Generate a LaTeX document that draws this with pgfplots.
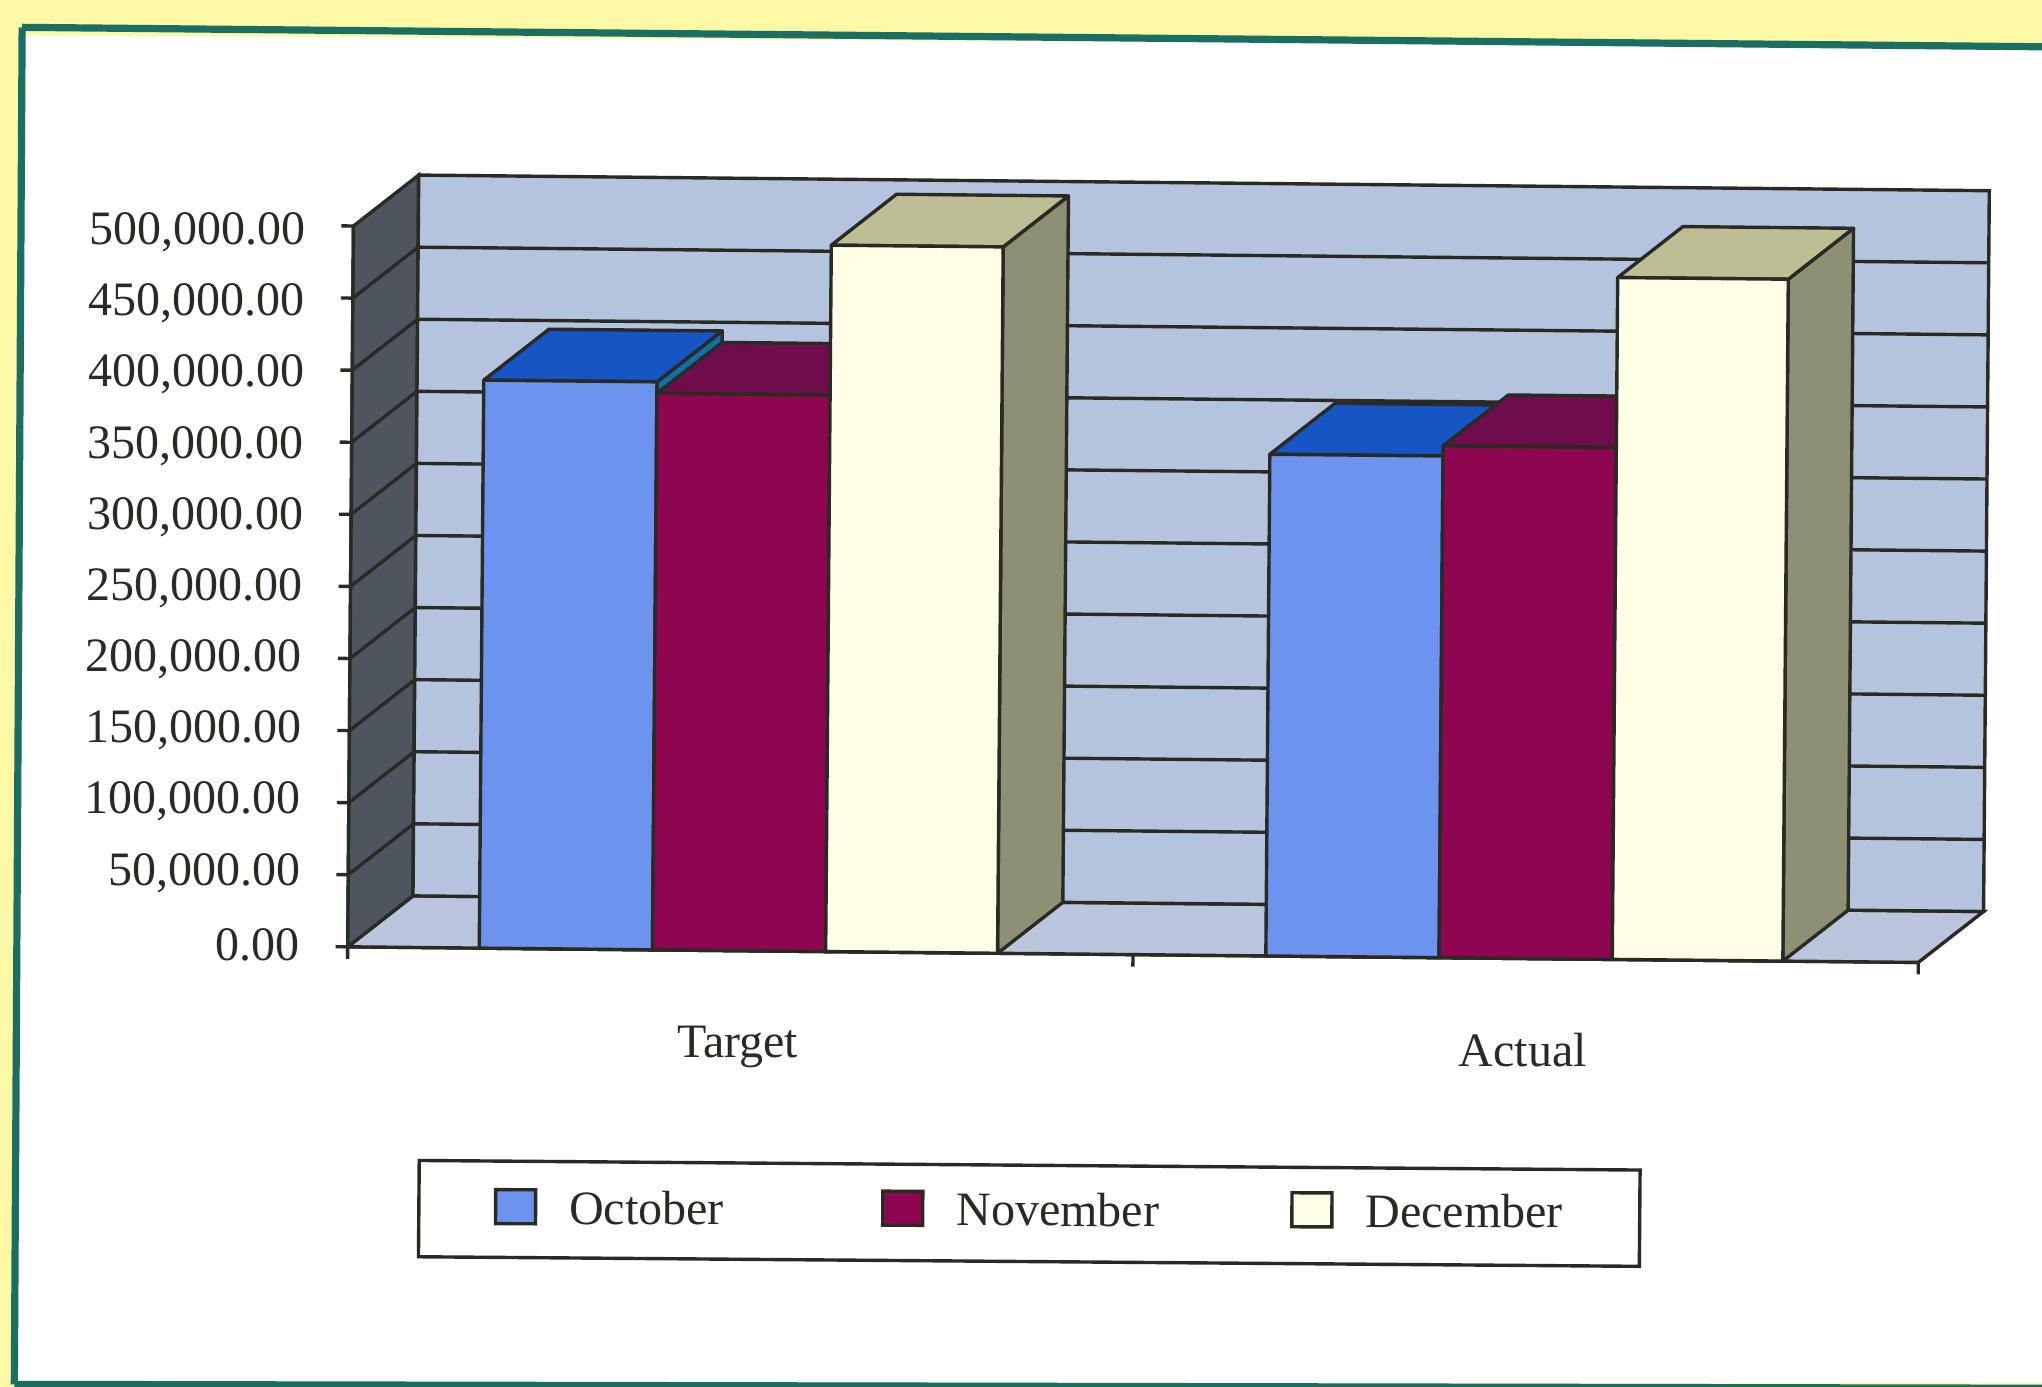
\documentclass[border=0pt]{standalone}
\usepackage{pgfplots}
\usepackage{fontspec}
\setmainfont{Liberation Serif}
\pgfplotsset{compat=1.18}
\definecolor{bgy}{HTML}{FDF8A6}
\definecolor{teal}{HTML}{1B6E62}
\definecolor{wall}{HTML}{B5C4DE}
\definecolor{floorc}{HTML}{BBC6DC}
\definecolor{sidew}{HTML}{4F555E}
\definecolor{octf}{HTML}{6C93EE}
\definecolor{octt}{HTML}{1555C4}
\definecolor{octs}{HTML}{0F6FA8}
\definecolor{novf}{HTML}{8E0550}
\definecolor{novt}{HTML}{6E0C4C}
\definecolor{novs}{HTML}{5E0A40}
\definecolor{decf}{HTML}{FFFEE6}
\definecolor{dect}{HTML}{BDBE94}
\definecolor{decs}{HTML}{8D9073}
\definecolor{ln}{HTML}{2A2A24}
% one box: x0, x1, value, front, top, side
\newcommand{\dbox}[6]{%
  \addplot[forget plot,draw=ln,line width=1.7pt,fill=#6,line join=round] coordinates {(#2,0) (#2+49.8,35780) (#2+49.8,#3+35780) (#2,#3)} --cycle;
  \addplot[forget plot,draw=ln,line width=1.7pt,fill=#5,line join=round] coordinates {(#1,#3) (#1+49.8,#3+35780) (#2+49.8,#3+35780) (#2,#3)} --cycle;
  \addplot[forget plot,draw=ln,line width=1.7pt,fill=#4,line join=round] coordinates {(#1,0) (#1,#3) (#2,#3) (#2,0)} --cycle;
}
\begin{document}
\begin{tikzpicture}
\useasboundingbox (0,0) rectangle (1021pt,693.5pt);
\clip (0,0) rectangle (1021pt,693.5pt);
\fill[bgy] (0,0) rectangle (1021pt,693.5pt);
\begin{scope}[x=0.65115pt,y=-0.65115pt,shift={(0pt,693.5pt)}]
\fill[white] (14,27) -- (1575,36) -- (1575,1062) -- (9,1063) -- cycle;
\draw[teal,line width=3.6pt] (17,21) -- (1575,36);
\draw[teal,line width=3.6pt] (17,21) -- (11,1063);
\draw[teal,line width=3.6pt] (11,1063) -- (1575,1066);
\end{scope}
\begin{axis}[
  anchor=origin, at={(173.86pt,220.09pt)},
  x={(0.65115pt,-0.00648pt)}, y={(0.00573pt,0.7208pt)},
  xmin=0,xmax=1206,ymin=0,ymax=500,
  y filter/.code={\pgfmathparse{#1/1000}\pgfmathresult},
  clip=false,
  axis lines=left,
  axis line style={-,draw=ln,line width=1.7pt},
  tick style={draw=ln,line width=1.7pt},
  tick align=outside,
  major tick length=6pt,
  ytick={0,50,...,500},
  yticklabels={{0.00},{50,000.00},{100,000.00},{150,000.00},{200,000.00},{250,000.00},{300,000.00},{350,000.00},{400,000.00},{450,000.00},{500,000.00}},
  xtick={0,603,1206},
  xticklabels={,,},
  extra x ticks={301.5,904.5},
  extra x tick labels={Target,Actual},
  extra x tick style={major tick length=0pt,tick style={draw=none}},
  tick label style={font=\fontsize{24}{28}\selectfont,text=ln},
  yticklabel style={xshift=-14.5pt,yshift={(0.8-0.46*\ticknum)*1pt}},
  xticklabel style={yshift=-34pt,xshift=-1.3pt},
  legend columns=3,
  legend cell align=left,
  legend image code/.code={\draw[#1] (0pt,-7.5pt) rectangle (20pt,9.5pt);},
  legend style={at={(rel axis cs:0.4366,-0.353)},anchor=center,draw=ln,line width=1.7pt,
    /tikz/transform canvas={rotate=-0.225},
    font=\fontsize{24}{28}\selectfont,text=ln,
    /tikz/every odd column/.append style={column sep=14pt},
    /tikz/column 2/.append style={column sep=76.6pt},
    /tikz/column 4/.append style={column sep=63.6pt},
    inner xsep=37pt,inner ysep=13pt},
]
% floor, side wall, back wall
\addplot[forget plot,draw=ln,line width=1.7pt,fill=floorc] coordinates {(0,0) (1206,0) (1255.8,35780) (49.8,35780)} --cycle;
\addplot[forget plot,draw=ln,line width=1.7pt,fill=sidew] coordinates {(0,0) (49.8,35780) (49.8,535780) (0,500000)} --cycle;
\addplot[forget plot,draw=ln,line width=1.7pt,fill=wall] coordinates {(49.8,35780) (1255.8,35780) (1255.8,535780) (49.8,535780)} --cycle;
% grid lines
\pgfplotsinvokeforeach{50000,100000,150000,200000,250000,300000,350000,400000,450000}{
  \addplot[forget plot,draw=ln,line width=1.7pt] coordinates {(0,#1) (49.8,#1+35780) (1255.8,#1+35780)};
}
% Target
\dbox{101}{234}{394000}{octf}{octt}{octs}
\dbox{234}{367}{386000}{novf}{novt}{novs}
\dbox{367}{499}{490000}{decf}{dect}{decs}
% Actual
\dbox{705}{838}{348000}{octf}{octt}{octs}
\dbox{838}{971}{355000}{novf}{novt}{novs}
\dbox{971}{1102}{473000}{decf}{dect}{decs}
\addlegendimage{draw=ln,line width=1.7pt,fill=octf}
\addlegendentry{October}
\addlegendimage{draw=ln,line width=1.7pt,fill=novf}
\addlegendentry{November}
\addlegendimage{draw=ln,line width=1.7pt,fill=decf}
\addlegendentry{December}
\end{axis}
\end{tikzpicture}
\end{document}
